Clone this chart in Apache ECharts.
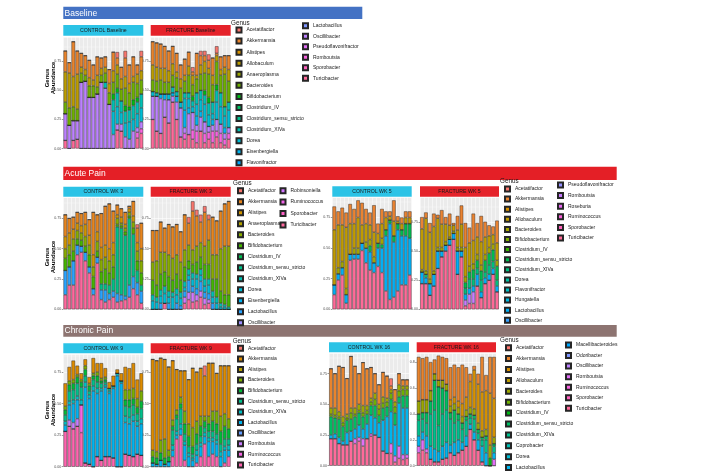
<!DOCTYPE html>
<html><head><meta charset="utf-8">
<script src="https://cdn.jsdelivr.net/npm/echarts/dist/echarts.min.js"></script>
<style>html,body{margin:0;padding:0;background:#fff}#c{width:708px;height:472px}</style>
</head><body><div id="c"></div><script>
// ---------- categories / legends ----------
const sampleIds = ['1','2','3','4','5','6','7','8','9','10','11','12','13','14','15','16','17','18','19','20'];
const genusBaseline = ['Acetatifactor','Akkermansia','Alistipes','Allobaculum','Anaeroplasma','Bacteroides','Bifidobacterium','Clostridium_IV','Clostridium_sensu_stricto','Clostridium_XIVa','Dorea','Eisenbergiella','Flavonifractor','Lactobacillus','Oscillibacter','Pseudoflavonifractor','Romboutsia','Sporobacter','Turicibacter'];
const genusAcuteWk3 = ['Acetatifactor','Akkermansia','Alistipes','Anaeroplasma','Bacteroides','Bifidobacterium','Clostridium_IV','Clostridium_sensu_stricto','Clostridium_XIVa','Dorea','Eisenbergiella','Lactobacillus','Oscillibacter','Robinsoniella','Ruminococcus','Sporobacter','Turicibacter'];
const genusAcuteWk5 = ['Acetatifactor','Akkermansia','Alistipes','Allobaculum','Bacteroides','Bifidobacterium','Clostridium_IV','Clostridium_sensu_stricto','Clostridium_XIVa','Dorea','Flavonifractor','Hungatella','Lactobacillus','Oscillibacter','Pseudoflavonifractor','Romboutsia','Roseburia','Ruminococcus','Sporobacter','Turicibacter'];
const genusChronicWk9 = ['Acetatifactor','Akkermansia','Alistipes','Bacteroides','Bifidobacterium','Clostridium_sensu_stricto','Clostridium_XIVa','Lactobacillus','Oscillibacter','Romboutsia','Ruminococcus','Turicibacter'];
const genusChronicWk16 = ['Acetatifactor','Akkermansia','Alistipes','Allobaculum','Bacteroides','Bifidobacterium','Clostridium_IV','Clostridium_sensu_stricto','Clostridium_XIVa','Coprobacter','Dorea','Lactobacillus','Macellibacteroides','Odoribacter','Oscillibacter','Romboutsia','Ruminococcus','Sporobacter','Turicibacter'];

// ---------- Baseline CONTROL ----------
const bc_Turicibacter = [0.07,0,0.07,0.08,0,0,0,0,0,0,0,0,0,0.16,0.15,0,0,0,0.09,0.13];
const bc_Romboutsia = [0,0,0,0,0,0,0,0,0,0,0,0,0,0,0,0,0,0,0.05,0.04];
const bc_Oscillibacter = [0.23,0.2,0.17,0.16,0.57,0.58,0.44,0.44,0.47,0.57,0.52,0.38,0.12,0.05,0.06,0.1,0.08,0.15,0.04,0.06];
const bc_Dorea = [0,0,0,0,0,0,0,0,0,0,0,0,0.2,0.15,0.1,0.12,0.15,0.1,0.12,0.12];
const bc_Clostridium_XIVa = [0,0,0,0,0,0,0,0,0,0,0.05,0,0.1,0.12,0.1,0.1,0.1,0.12,0.1,0.12];
const bc_Bifidobacterium = [0,0,0,0,0,0,0,0,0,0,0,0,0.05,0.04,0,0.05,0.03,0.05,0.04,0];
const bc_Bacteroides = [0.1,0.15,0.12,0.1,0.08,0.05,0.1,0.1,0.06,0.06,0.08,0.1,0.1,0.12,0.1,0.15,0.12,0.15,0.12,0.12];
const bc_Allobaculum = [0.26,0.3,0.26,0.3,0.05,0.05,0.07,0.05,0.1,0.06,0.05,0.08,0.1,0.08,0.09,0.1,0.08,0.05,0.08,0.08];
const bc_Akkermansia = [0.18,0.09,0.30,0.20,0.12,0.12,0.15,0.13,0.16,0.09,0.09,0.12,0.16,0.06,0.10,0.16,0.16,0.17,0.08,0.12];
const bc_Acetatifactor = [0,0,0,0,0,0,0,0,0,0,0,0,0,0.05,0,0.06,0,0,0,0.05];
// ---------- Baseline FRACTURE ----------
const bf_Turicibacter = [0.25,0.15,0.13,0.27,0.22,0.4,0.25,0.1,0.08,0.12,0.08,0.05,0.15,0.05,0.08,0.05,0.1,0.05,0.03,0.08];
const bf_Romboutsia = [0,0,0,0,0,0,0,0,0.05,0,0.08,0.1,0,0.08,0.06,0.1,0.05,0.08,0.05,0.05];
const bf_Oscillibacter = [0.2,0.3,0.3,0.15,0.2,0.05,0.15,0.25,0.05,0.18,0.15,0.05,0.12,0.1,0.05,0.05,0.1,0.08,0.05,0.05];
const bf_Eisenbergiella = [0,0,0.04,0.05,0,0.03,0.05,0,0.15,0.05,0,0.08,0.05,0,0,0.05,0,0,0.05,0];
const bf_Dorea = [0.04,0,0,0,0.05,0,0,0.05,0.1,0.08,0.05,0.1,0.1,0.15,0.1,0.05,0.15,0.15,0.1,0.15];
const bf_Clostridium_XIVa = [0,0.03,0,0,0,0.05,0.04,0,0.05,0.05,0.05,0.1,0.08,0.08,0.1,0.1,0.1,0.12,0.08,0.07];
const bf_Bifidobacterium = [0,0,0,0,0,0,0,0,0,0,0.04,0,0,0.04,0.05,0,0.05,0,0,0];
const bf_Bacteroides = [0.1,0.1,0.12,0.1,0.1,0.1,0.12,0.12,0.1,0.15,0.1,0.12,0.14,0.15,0.2,0.15,0.2,0.15,0.28,0.18];
const bf_Allobaculum = [0.13,0.12,0.1,0.12,0.1,0.1,0.05,0.08,0.05,0.08,0.08,0.03,0.08,0.1,0.05,0.08,0.05,0.05,0.06,0.1];
const bf_Akkermansia = [0.20,0.21,0.21,0.19,0.17,0.15,0.16,0.12,0.14,0.12,0.03,0.19,0.08,0.05,0.07,0.15,0.02,0.11,0.10,0.12];
const bf_Acetatifactor = [0,0,0,0,0,0,0,0,0,0,0.04,0,0.04,0.04,0.05,0,0.06,0,0,0];
// ---------- Acute CONTROL WK 3 ----------
const a3c_Turicibacter = [0.12,0.2,0.2,0.45,0.47,0.4,0.3,0.12,0.38,0.08,0.06,0.08,0.1,0.06,0.07,0.08,0.1,0.17,0.12,0.05];
const a3c_Lactobacillus = [0.2,0.15,0.2,0.08,0.05,0.07,0.05,0.05,0.05,0.08,0.1,0.05,0.05,0.07,0.05,0.03,0.1,0.1,0.1,0.1];
const a3c_Clostridium_sensu_stricto = [0,0,0,0,0,0,0,0,0,0.05,0.05,0.07,0.1,0.55,0.55,0.5,0.55,0.35,0.1,0.05];
const a3c_Bifidobacterium = [0.1,0.1,0.08,0.05,0.05,0.05,0.1,0.1,0.05,0.1,0.12,0.1,0.1,0.02,0.02,0.03,0.02,0.05,0.08,0.1];
const a3c_Bacteroides = [0.08,0.08,0.1,0.07,0.06,0.08,0.08,0.08,0.08,0.1,0.1,0.1,0.1,0.05,0.02,0.03,0.03,0.05,0.08,0.1];
const a3c_Alistipes = [0.1,0.1,0.08,0.06,0.06,0.1,0.08,0.1,0.08,0.1,0.1,0.1,0.1,0.03,0.05,0.03,0.03,0.05,0.07,0.1];
const a3c_Akkermansia = [0.18,0.12,0.10,0.09,0.10,0.10,0.13,0.35,0.14,0.28,0.32,0.37,0.26,0.08,0.07,0.10,0.02,0.12,0.12,0.21];
const a3c_Acetatifactor = [0,0,0,0,0,0,0,0,0,0,0,0,0,0,0,0,0,0,0.03,0];
// ---------- Acute FRACTURE WK 3 ----------
const a3f_Turicibacter = [0,0,0,0.05,0,0,0,0,0.05,0.08,0.06,0.07,0.1,0.04,0.05,0,0,0,0,0];
const a3f_Robinsoniella = [0,0,0,0,0,0,0,0,0.05,0.06,0.08,0.05,0.05,0.05,0.03,0,0,0,0,0];
const a3f_Lactobacillus = [0,0,0.05,0,0.05,0,0.05,0.03,0.05,0.1,0.05,0.05,0.08,0.05,0.05,0.05,0,0,0,0];
const a3f_Dorea = [0.07,0.06,0.06,0.08,0.05,0.1,0.07,0.06,0.03,0.04,0.06,0.08,0.05,0.05,0.07,0.05,0.05,0.02,0.02,0];
const a3f_Clostridium_XIVa = [0.05,0.04,0.05,0.06,0.05,0.04,0.05,0.05,0.05,0.05,0.05,0.04,0.05,0.06,0.05,0.05,0.05,0.03,0.02,0.02];
const a3f_Bifidobacterium = [0.12,0.1,0.13,0.12,0.12,0.1,0.12,0.1,0.12,0.07,0.07,0.1,0.1,0.12,0.12,0.1,0.15,0.1,0.08,0.1];
const a3f_Bacteroides = [0.15,0.2,0.18,0.16,0.18,0.18,0.16,0.15,0.14,0.13,0.12,0.13,0.12,0.15,0.2,0.2,0.2,0.35,0.4,0.4];
const a3f_Akkermansia = [0.26,0.25,0.25,0.20,0.25,0.26,0.25,0.25,0.29,0.18,0.32,0.25,0.17,0.28,0.17,0.31,0.28,0.31,0.35,0.37];
const a3f_Acetatifactor = [0,0,0,0,0,0,0,0,0,0.05,0.08,0.05,0.06,0.05,0.04,0,0,0,0,0];
// ---------- Acute CONTROL WK 5 ----------
const a5c_Turicibacter = [0.12,0.24,0.28,0.05,0.4,0.41,0.41,0.48,0.38,0.32,0.3,0.35,0.3,0.15,0.08,0.1,0.15,0.2,0.2,0.28];
const a5c_Lactobacillus = [0.08,0.05,0.06,0.07,0.05,0.04,0.04,0.06,0.12,0.15,0.08,0.15,0.2,0.45,0.62,0.45,0.5,0.4,0.4,0.3];
const a5c_Clostridium_sensu_stricto = [0,0,0,0,0,0,0,0,0,0.05,0,0.04,0.03,0.05,0.03,0.05,0.05,0.05,0.1,0.12];
const a5c_Bacteroides = [0,0.05,0.05,0.05,0,0.05,0.05,0,0.05,0.05,0.05,0,0.05,0,0,0,0,0,0,0];
const a5c_Allobaculum = [0.45,0.35,0.3,0.5,0.25,0.2,0.25,0.15,0.15,0.12,0.2,0.08,0.12,0.1,0.03,0.12,0.02,0.05,0.05,0.05];
const a5c_Akkermansia = [0.19,0.11,0.14,0.12,0.16,0.12,0.14,0.18,0.12,0.10,0.22,0.08,0.12,0.05,0.04,0.17,0.04,0.05,0.05,0.05];
// ---------- Acute FRACTURE WK 5 ----------
const a5f_Turicibacter = [0.22,0.22,0.12,0.2,0.35,0.45,0.5,0.55,0.6,0.3,0.45,0.03,0.05,0.05,0.2,0.1,0.22,0.25,0.3,0.15];
const a5f_Romboutsia = [0,0,0,0,0,0,0,0,0,0,0,0.05,0.08,0.1,0,0,0,0,0,0];
const a5f_Lactobacillus = [0.1,0.05,0.1,0.1,0.15,0.05,0.05,0.05,0.05,0.2,0.05,0.05,0.05,0.05,0.1,0.05,0.05,0.05,0.05,0.05];
const a5f_Clostridium_XIVa = [0,0.03,0,0,0,0,0,0,0,0,0,0.05,0.08,0.06,0.05,0.1,0.05,0.08,0.06,0.05];
const a5f_Clostridium_sensu_stricto = [0,0,0,0,0,0,0,0,0,0,0,0.05,0.06,0.08,0.07,0.08,0.1,0.1,0.1,0.12];
const a5f_Bacteroides = [0.02,0.03,0.04,0.03,0.03,0.03,0.03,0.02,0.02,0.03,0.03,0.05,0.05,0.05,0.05,0.05,0.05,0.05,0.05,0.05];
const a5f_Allobaculum = [0.35,0.45,0.4,0.38,0.25,0.2,0.15,0.1,0.05,0.15,0.2,0.25,0.2,0.2,0.15,0.2,0.15,0.1,0.08,0.15];
const a5f_Akkermansia = [0.10,0.05,0.08,0.11,0.03,0.12,0.06,0.10,0.02,0.12,0.16,0.21,0.13,0.23,0.12,0.22,0.13,0.09,0.07,0.19];
// ---------- Chronic CONTROL WK 9 ----------
const c9c_Turicibacter = [0.28,0.32,0.3,0.32,0.27,0.03,0.02,0,0.08,0.05,0.08,0.08,0.07,0,0,0.1,0.09,0.08,0.1,0.09];
const c9c_Ruminococcus = [0,0,0,0,0.22,0,0,0,0,0,0,0,0,0,0,0,0,0,0,0];
const c9c_Romboutsia = [0,0.05,0.05,0.06,0,0,0,0,0,0,0,0,0,0,0,0,0,0,0,0];
const c9c_Lactobacillus = [0.05,0.12,0.15,0.15,0,0.6,0.52,0.6,0.5,0.55,0.55,0.5,0.55,0.72,0.66,0.25,0.25,0.28,0.22,0.25];
const c9c_Clostridium_XIVa = [0.03,0.03,0.03,0.03,0.04,0.04,0.03,0.04,0.04,0.02,0.02,0.02,0.02,0.02,0.02,0.05,0.05,0.05,0.04,0.04];
const c9c_Clostridium_sensu_stricto = [0.05,0.08,0.08,0.1,0.1,0.05,0.03,0.05,0.05,0.04,0.02,0.02,0,0,0,0.08,0.08,0.08,0.06,0.08];
const c9c_Bifidobacterium = [0.04,0.05,0.05,0.05,0.04,0.05,0.04,0.03,0.05,0.02,0.02,0,0,0,0,0.05,0.06,0.05,0.05,0.06];
const c9c_Bacteroides = [0.03,0.03,0.03,0.02,0.02,0.03,0.02,0.02,0.03,0.02,0.02,0,0,0,0,0.08,0.08,0.08,0.07,0.08];
const c9c_Akkermansia = [0.18,0.11,0.15,0.07,0.05,0.05,0.05,0.12,0.07,0.12,0.07,0.05,0.08,0.03,0.06,0.18,0.17,0.20,0.15,0.14];
// ---------- Chronic FRACTURE WK 9 ----------
const c9f_Turicibacter = [0,0,0,0,0,0.08,0.22,0.25,0.05,0,0,0.03,0.08,0.18,0.08,0.1,0.08,0,0.03,0.08];
const c9f_Lactobacillus = [0.03,0.02,0.05,0.02,0.04,0.05,0.03,0.05,0.12,0.08,0.05,0.06,0.08,0.06,0.12,0.1,0.1,0.08,0.1,0.05];
const c9f_Clostridium_XIVa = [0,0,0,0,0,0.04,0.03,0.04,0.03,0.03,0.02,0.04,0.03,0.03,0.03,0.03,0.03,0.04,0.03,0.04];
const c9f_Clostridium_sensu_stricto = [0,0,0,0,0,0.12,0.1,0.12,0.06,0.05,0.03,0.05,0.05,0.04,0.05,0.05,0.05,0.06,0.06,0.05];
const c9f_Bifidobacterium = [0.05,0.05,0.06,0.05,0.04,0.03,0.03,0.04,0.08,0.08,0.06,0.08,0.08,0.05,0.06,0.08,0.08,0.1,0.1,0.08];
const c9f_Bacteroides = [0.05,0.05,0.1,0.15,0.05,0.05,0.04,0.05,0.1,0.1,0.15,0.1,0.08,0.04,0.06,0.08,0.1,0.12,0.1,0.08];
const c9f_Akkermansia = [0.72,0.72,0.65,0.63,0.66,0.47,0.32,0.21,0.32,0.35,0.47,0.39,0.38,0.32,0.42,0.38,0.30,0.40,0.38,0.42];
const c9f_Acetatifactor = [0,0,0,0,0,0,0,0,0,0,0,0,0,0.08,0,0,0,0,0,0];
// ---------- Chronic CONTROL WK 16 ----------
const c16c_Turicibacter = [0.22,0.22,0.18,0.17,0.17,0.2,0.18,0.2,0.16,0.22,0.24,0.25,0.23,0.12,0.1,0.1,0.03,0.06,0.05,0.06];
const c16c_Romboutsia = [0,0,0,0,0,0,0.04,0.03,0.06,0,0.02,0,0,0,0,0.08,0.05,0.1,0.04,0.03];
const c16c_Lactobacillus = [0.03,0.04,0.05,0.03,0.1,0.08,0.08,0.1,0.08,0.12,0.15,0.14,0.12,0.25,0.3,0.26,0.25,0.35,0.38,0.38];
const c16c_Clostridium_sensu_stricto = [0.15,0.13,0.15,0.12,0.1,0.1,0.1,0.1,0.1,0.08,0.08,0.1,0.06,0.1,0.08,0.1,0.1,0.05,0.1,0.1];
const c16c_Bifidobacterium = [0.02,0.02,0.02,0.03,0.02,0.05,0.02,0.02,0.03,0.03,0.03,0.05,0.05,0.04,0.04,0.05,0.05,0.05,0.05,0.05];
const c16c_Bacteroides = [0.05,0.06,0.04,0.05,0.03,0.04,0.05,0.05,0.06,0.04,0.03,0.05,0.04,0.05,0.03,0.03,0.04,0.05,0.03,0.03];
const c16c_Akkermansia = [0.32,0.28,0.37,0.40,0.29,0.42,0.34,0.25,0.35,0.30,0.25,0.16,0.16,0.20,0.18,0.03,0.10,0.09,0.05,0.05];
const c16c_Acetatifactor = [0,0,0,0,0,0,0,0,0,0,0,0,0,0,0,0.06,0,0,0,0];
// ---------- Chronic FRACTURE WK 16 ----------
const c16f_Turicibacter = [0.1,0.12,0.1,0.05,0.03,0.03,0.05,0.06,0.1,0.08,0.1,0.12,0.15,0.28,0.2,0.12,0.03,0,0,0];
const c16f_Romboutsia = [0.05,0.08,0.03,0,0,0,0,0,0,0,0,0,0,0,0,0,0,0,0,0.05];
const c16f_Lactobacillus = [0.08,0.06,0.1,0.1,0.1,0.08,0.1,0.12,0.06,0.1,0.1,0.06,0.08,0.04,0.06,0.08,0.12,0.1,0,0.05];
const c16f_Clostridium_XIVa = [0.12,0.1,0.1,0.25,0.3,0.2,0.25,0.25,0.2,0.15,0.15,0.1,0.12,0.05,0.1,0.05,0.05,0.1,0,0.05];
const c16f_Clostridium_sensu_stricto = [0.05,0.05,0.08,0.1,0.23,0.3,0.2,0.15,0.05,0.1,0.05,0.05,0.03,0.03,0.03,0.03,0.02,0.03,0,0.02];
const c16f_Clostridium_IV = [0,0,0,0,0,0,0,0,0,0,0,0,0,0,0,0,0,0,0.06,0];
const c16f_Bacteroides = [0.1,0.1,0.1,0.08,0.05,0.05,0.06,0.05,0.05,0.05,0.05,0.05,0.05,0.05,0.05,0.05,0.05,0.05,0.1,0.05];
const c16f_Alistipes = [0,0,0,0,0,0,0,0,0.05,0.05,0.05,0.1,0.1,0.2,0.3,0.3,0.3,0.3,0.4,0.3];
const c16f_Akkermansia = [0.34,0.32,0.33,0.22,0.11,0.19,0.18,0.20,0.25,0.25,0.26,0.30,0.23,0.06,0.03,0.08,0.27,0.12,0.28,0.32];

// ---------- palette (ggplot2 hue_pal) ----------
function hclHex(h, c, l) {
  const hr = h * Math.PI / 180, U = c * Math.cos(hr), V = c * Math.sin(hr);
  const Y = 100 * (l > 7.999592 ? Math.pow((l + 16) / 116, 3) : l / 903.3);
  const u = U / (13 * l) + 0.1978398, v = V / (13 * l) + 0.4683363;
  const X = 9 * Y * u / (4 * v), Z = -X / 3 - 5 * Y + 3 * Y / v;
  const g = t => { t /= 100; t = t > 0.00304 ? 1.055 * Math.pow(t, 1 / 2.4) - 0.055 : 12.92 * t; return Math.round(Math.max(0, Math.min(1, t)) * 255); };
  const rgb = [g(3.240479*X - 1.537150*Y - 0.498535*Z), g(-0.969256*X + 1.875992*Y + 0.041556*Z), g(0.055648*X - 0.204043*Y + 1.057311*Z)];
  return '#' + rgb.map(x => x.toString(16).padStart(2, '0')).join('');
}
function huePal(n) { const o = []; for (let i = 0; i < n; i++) o.push(hclHex((15 + i * 360 / n) % 360, 100, 65)); return o; }

const rows = {
  b:  {genera: genusBaseline, split: 13},
  a1: {genera: genusAcuteWk3, split: 13},
  a2: {genera: genusAcuteWk5, split: 14},
  c1: {genera: genusChronicWk9, split: 12},
  c2: {genera: genusChronicWk16, split: 12}
};
Object.values(rows).forEach(r => r.colors = huePal(r.genera.length));

const panels = [
  {id:'bc', row:'b', label:'CONTROL Baseline', kind:'c', box:[63.3,37,80,111.5], strip:[25,10.7], yMax:0.96, step:0.25, dig:2,
   s:{Turicibacter:bc_Turicibacter, Romboutsia:bc_Romboutsia, Oscillibacter:bc_Oscillibacter, Dorea:bc_Dorea, Clostridium_XIVa:bc_Clostridium_XIVa, Bifidobacterium:bc_Bifidobacterium, Bacteroides:bc_Bacteroides, Allobaculum:bc_Allobaculum, Akkermansia:bc_Akkermansia, Acetatifactor:bc_Acetatifactor}},
  {id:'bf', row:'b', label:'FRACTURE Baseline', kind:'f', box:[150.7,37,80,111.5], strip:[25,10.7], yMax:0.96, step:0.25, dig:2,
   s:{Turicibacter:bf_Turicibacter, Romboutsia:bf_Romboutsia, Oscillibacter:bf_Oscillibacter, Eisenbergiella:bf_Eisenbergiella, Dorea:bf_Dorea, Clostridium_XIVa:bf_Clostridium_XIVa, Bifidobacterium:bf_Bifidobacterium, Bacteroides:bf_Bacteroides, Allobaculum:bf_Allobaculum, Akkermansia:bf_Akkermansia, Acetatifactor:bf_Acetatifactor}},
  {id:'a3c', row:'a1', label:'CONTROL WK 3', kind:'c', box:[63.3,197.7,80,111.6], strip:[186.7,10], yMax:0.92, step:0.25, dig:2,
   s:{Turicibacter:a3c_Turicibacter, Lactobacillus:a3c_Lactobacillus, Clostridium_sensu_stricto:a3c_Clostridium_sensu_stricto, Bifidobacterium:a3c_Bifidobacterium, Bacteroides:a3c_Bacteroides, Alistipes:a3c_Alistipes, Akkermansia:a3c_Akkermansia, Acetatifactor:a3c_Acetatifactor}},
  {id:'a3f', row:'a1', label:'FRACTURE WK 3', kind:'f', box:[150.7,197.7,80,111.6], strip:[186.7,10], yMax:0.92, step:0.25, dig:2,
   s:{Turicibacter:a3f_Turicibacter, Robinsoniella:a3f_Robinsoniella, Lactobacillus:a3f_Lactobacillus, Dorea:a3f_Dorea, Clostridium_XIVa:a3f_Clostridium_XIVa, Bifidobacterium:a3f_Bifidobacterium, Bacteroides:a3f_Bacteroides, Akkermansia:a3f_Akkermansia, Acetatifactor:a3f_Acetatifactor}},
  {id:'a5c', row:'a2', label:'CONTROL WK 5', kind:'c', box:[332.3,197.3,79.4,112], strip:[186.3,10.4], yMax:0.915, step:0.25, dig:2,
   s:{Turicibacter:a5c_Turicibacter, Lactobacillus:a5c_Lactobacillus, Clostridium_sensu_stricto:a5c_Clostridium_sensu_stricto, Bacteroides:a5c_Bacteroides, Allobaculum:a5c_Allobaculum, Akkermansia:a5c_Akkermansia}},
  {id:'a5f', row:'a2', label:'FRACTURE WK 5', kind:'f', box:[420,197.3,79,112], strip:[186.3,10.4], yMax:0.96, step:0.25, dig:2,
   s:{Turicibacter:a5f_Turicibacter, Romboutsia:a5f_Romboutsia, Lactobacillus:a5f_Lactobacillus, Clostridium_XIVa:a5f_Clostridium_XIVa, Clostridium_sensu_stricto:a5f_Clostridium_sensu_stricto, Bacteroides:a5f_Bacteroides, Allobaculum:a5f_Allobaculum, Akkermansia:a5f_Akkermansia}},
  {id:'c9c', row:'c1', label:'CONTROL WK 9', kind:'c', box:[63.3,354.3,80,112.4], strip:[343.3,10], yMax:0.89, step:0.25, dig:2,
   s:{Turicibacter:c9c_Turicibacter, Ruminococcus:c9c_Ruminococcus, Romboutsia:c9c_Romboutsia, Lactobacillus:c9c_Lactobacillus, Clostridium_XIVa:c9c_Clostridium_XIVa, Clostridium_sensu_stricto:c9c_Clostridium_sensu_stricto, Bifidobacterium:c9c_Bifidobacterium, Bacteroides:c9c_Bacteroides, Akkermansia:c9c_Akkermansia}},
  {id:'c9f', row:'c1', label:'FRACTURE WK 9', kind:'f', box:[150.7,354.3,80,112.4], strip:[343.3,10], yMax:0.89, step:0.25, dig:2,
   s:{Turicibacter:c9f_Turicibacter, Lactobacillus:c9f_Lactobacillus, Clostridium_XIVa:c9f_Clostridium_XIVa, Clostridium_sensu_stricto:c9f_Clostridium_sensu_stricto, Bifidobacterium:c9f_Bifidobacterium, Bacteroides:c9f_Bacteroides, Akkermansia:c9f_Akkermansia, Acetatifactor:c9f_Acetatifactor}},
  {id:'c16c', row:'c2', label:'CONTROL WK 16', kind:'c', box:[329,353.3,80,112.4], strip:[342.3,10], yMax:0.915, step:0.25, dig:2,
   s:{Turicibacter:c16c_Turicibacter, Romboutsia:c16c_Romboutsia, Lactobacillus:c16c_Lactobacillus, Clostridium_sensu_stricto:c16c_Clostridium_sensu_stricto, Bifidobacterium:c16c_Bifidobacterium, Bacteroides:c16c_Bacteroides, Akkermansia:c16c_Akkermansia, Acetatifactor:c16c_Acetatifactor}},
  {id:'c16f', row:'c2', label:'FRACTURE WK 16', kind:'f', box:[416.7,353.3,79.3,112.4], strip:[342.3,10], yMax:0.868, step:0.2, dig:1,
   s:{Turicibacter:c16f_Turicibacter, Romboutsia:c16f_Romboutsia, Lactobacillus:c16f_Lactobacillus, Clostridium_XIVa:c16f_Clostridium_XIVa, Clostridium_sensu_stricto:c16f_Clostridium_sensu_stricto, Clostridium_IV:c16f_Clostridium_IV, Bacteroides:c16f_Bacteroides, Alistipes:c16f_Alistipes, Akkermansia:c16f_Akkermansia}}
];

const FONT = 'Liberation Sans, Arial, Helvetica, sans-serif';
const series = [];
panels.forEach((p, i) => {
  const r = rows[p.row];
  r.genera.slice().reverse().forEach(g => {
    const idx = r.genera.indexOf(g);
    series.push({
      type: 'bar', name: g + '|' + p.row, xAxisIndex: i, yAxisIndex: i, stack: p.id,
      data: p.s[g] || [], barCategoryGap: '10%', animation: false,
      itemStyle: {color: r.colors[idx], borderColor: '#262626', borderWidth: 0.45},
      emphasis: {disabled: true}
    });
  });
});

// legend columns: first row centre y and row pitch
const legendPos = [
  {row:'b', part:0, left:235.5, y0:30, pitch:11.07},
  {row:'b', part:1, left:302, y0:25.7, pitch:10.5},
  {row:'a1', part:0, left:237, y0:190.7, pitch:11},
  {row:'a1', part:1, left:279.5, y0:190.7, pitch:11.4},
  {row:'a2', part:0, left:504, y0:189, pitch:10.1},
  {row:'a2', part:1, left:557, y0:185, pitch:10.6},
  {row:'c1', part:0, left:237, y0:348.3, pitch:10.6},
  {row:'c2', part:0, left:505, y0:347.7, pitch:10.9},
  {row:'c2', part:1, left:565, y0:345, pitch:10.55}
];
const LH = 7;
const legends = legendPos.map(L => {
  const r = rows[L.row];
  const names = (L.part === 0 ? r.genera.slice(0, r.split) : r.genera.slice(r.split)).map(g => g + '|' + L.row);
  return {orient: 'vertical', left: L.left, top: L.y0 - LH / 2, itemWidth: 5, itemHeight: 5, itemGap: L.pitch - LH, icon: 'rect',
    padding: 0, selectedMode: false, data: names, formatter: n => n.split('|')[0],
    textStyle: {fontSize: 5, lineHeight: LH, height: LH, color: '#222222', fontFamily: FONT}};
});

const graphic = [];
function rect(x, y, w, h, fill) { graphic.push({type: 'rect', shape: {x, y, width: w, height: h}, style: {fill}, silent: true}); }
function text(t, x, y, o) { graphic.push(Object.assign({type: 'text', x, y, silent: true, style: Object.assign({text: t, fontFamily: FONT, fill: '#1A1A1A', align: 'left', verticalAlign: 'middle'}, o.style)}, o.el || {})); }
// row headers
rect(63.3, 6.7, 299, 12.3, '#4472C4'); text('Baseline', 64.5, 13.2, {style: {fill: '#FFFFFF', fontSize: 8.5}});
rect(63.3, 166.7, 553.4, 13.3, '#E41F26'); text('Acute Pain', 64.5, 173.5, {style: {fill: '#FFFFFF', fontSize: 8.5}});
rect(63.3, 325, 553.4, 11.7, '#8D7471'); text('Chronic Pain', 64.5, 331, {style: {fill: '#FFFFFF', fontSize: 8.5}});
// strips
panels.forEach(p => {
  rect(p.box[0], p.strip[0], p.box[2], p.strip[1], p.kind === 'c' ? '#2BC3E6' : '#E5222A');
  text(p.label, p.box[0] + p.box[2] / 2, p.strip[0] + p.strip[1] / 2 + 0.3, {style: {fontSize: 5.2, align: 'center', fill: '#1A1A1A'}});
});
// legend titles
[[231, 23], [233, 183.5], [500, 181.5], [232.7, 341], [500, 340]].forEach(([x, y]) => text('Genus', x, y, {style: {fontSize: 6.3}}));
// y titles
[78, 257, 410].forEach(y => text('Genus\nAbundance', 50.5, y, {style: {fontSize: 6, fontWeight: 'bold', align: 'center', lineHeight: 5.6, fill: '#000'}, el: {rotation: Math.PI / 2}}));

const option = {
  backgroundColor: '#FFFFFF',
  animation: false,
  legend: legends,
  grid: panels.map(p => ({left: p.box[0], top: p.box[1], width: p.box[2], height: p.box[3], show: true, backgroundColor: '#EBEBEB', borderWidth: 0})),
  xAxis: panels.map((p, i) => ({type: 'category', gridIndex: i, data: sampleIds,
    axisLine: {show: false}, axisTick: {show: false}, axisLabel: {show: false},
    splitLine: {show: true, interval: 0, lineStyle: {color: '#FFFFFF', width: 0.5}}})),
  yAxis: panels.map((p, i) => ({type: 'value', gridIndex: i, min: 0, max: p.yMax, interval: p.step,
    axisLine: {show: false}, axisTick: {show: true, length: 1.5, lineStyle: {color: '#333', width: 0.5}},
    axisLabel: {fontSize: 3.6, color: '#4D4D4D', margin: 2, showMaxLabel: false, fontFamily: FONT, formatter: v => v.toFixed(p.dig)},
    splitLine: {show: true, lineStyle: {color: '#FFFFFF', width: 0.6}},
    minorTick: {show: false, splitNumber: 2}, minorSplitLine: {show: true, lineStyle: {color: '#FFFFFF', width: 0.3}}})),
  series,
  graphic
};
const chart = echarts.init(document.getElementById('c'), null, {renderer: 'canvas'});
chart.setOption(option);
</script></body></html>
